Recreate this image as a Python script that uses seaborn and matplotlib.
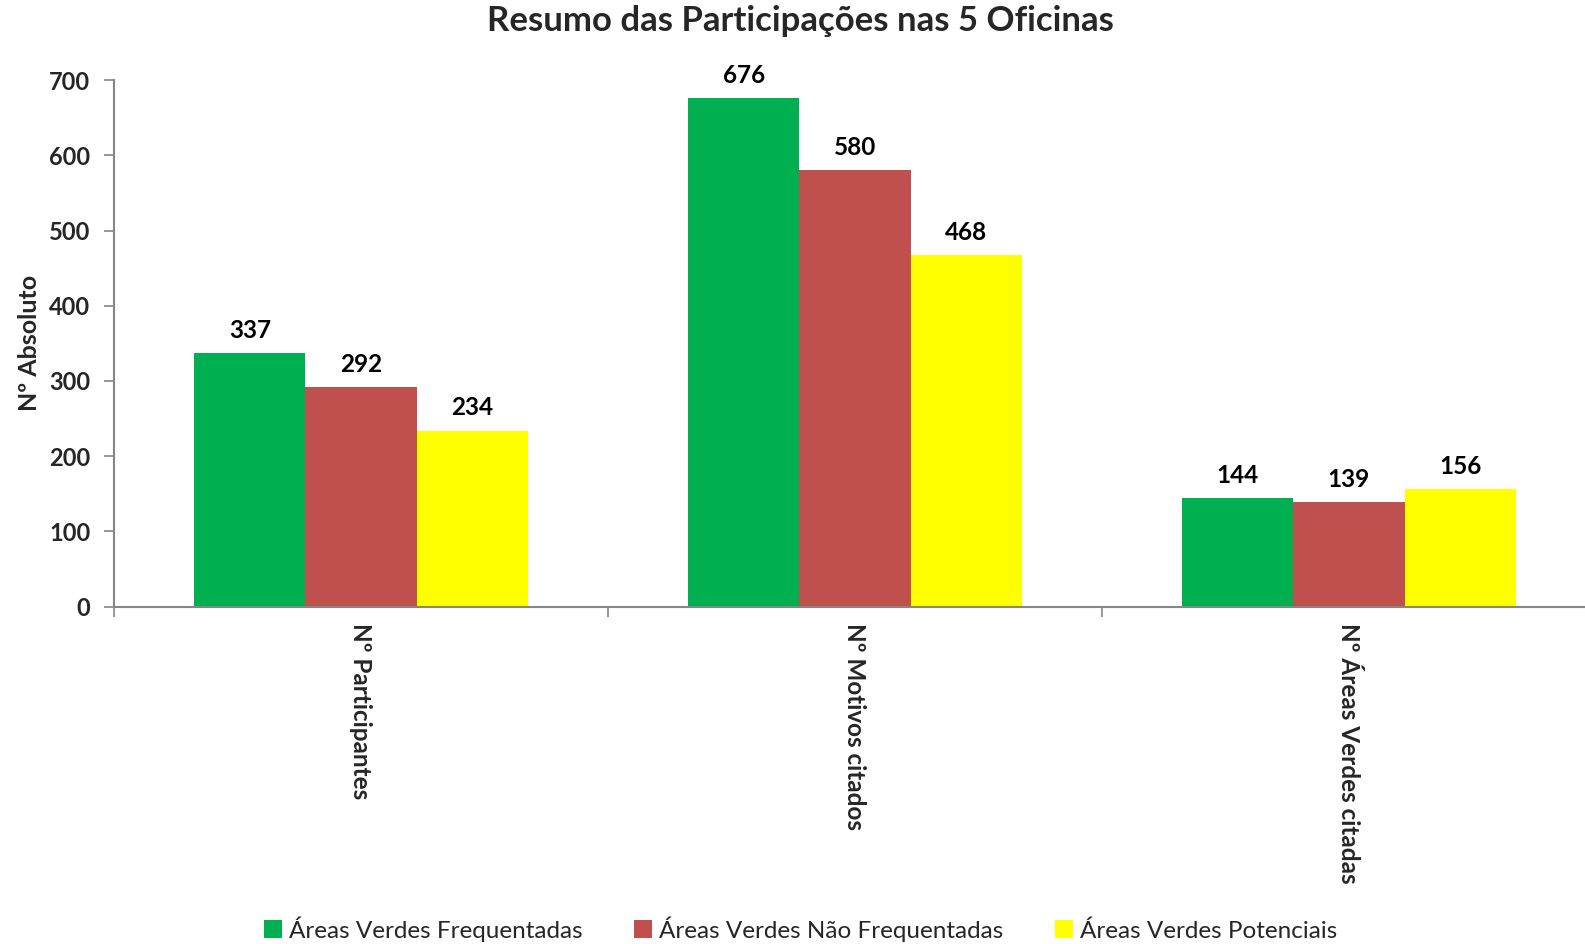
import matplotlib
matplotlib.use("Agg")
import matplotlib.pyplot as plt
from matplotlib.ticker import FixedLocator
import seaborn as sns
import pandas as pd

categories = ["Nº Participantes", "Nº Motivos citados", "Nº Áreas Verdes citadas"]
series_names = ["Áreas Verdes Frequentadas", "Áreas Verdes Não Frequentadas", "Áreas Verdes Potenciais"]
frequentadas = [337, 676, 144]
nao_frequentadas = [292, 580, 139]
potenciais = [234, 468, 156]
colors = ["#00B050", "#C0504D", "#FFFF00"]

rows = []
for name, vals in zip(series_names, [frequentadas, nao_frequentadas, potenciais]):
    for cat, v in zip(categories, vals):
        rows.append({"categoria": cat, "serie": name, "valor": v})
df = pd.DataFrame(rows)

sns.set_style("white")
plt.rcParams["font.family"] = ["Lato", "DejaVu Sans"]

fig = plt.figure(figsize=(15.85, 9.44), dpi=100)
ax = fig.add_axes([0.0719, 0.3575, 0.935, 0.5575])

sns.barplot(data=df, x="categoria", y="valor", hue="serie", order=categories,
            hue_order=series_names, palette=colors, width=0.675, saturation=1,
            edgecolor="none", linewidth=0, ax=ax, legend=True)

for cont in ax.containers:
    ax.bar_label(cont, padding=8, fontsize=17.5, fontweight="bold", color="black")

ax.set_ylim(0, 700)
ax.set_xlim(-0.5, 2.5)
ax.set_yticks(range(0, 701, 100))
ax.set_xlabel("")
ax.set_ylabel("Nº Absoluto", fontsize=18, fontweight="bold", labelpad=6)

for s in ["top", "right"]:
    ax.spines[s].set_visible(False)
for s in ["left", "bottom"]:
    ax.spines[s].set_color("#868686")
    ax.spines[s].set_linewidth(1.5)

ax.tick_params(axis="y", which="major", direction="out", length=7, width=1.2,
               color="#868686", labelsize=17, pad=10, left=True)
for lab in ax.get_yticklabels():
    lab.set_fontweight("bold")

# category labels centred under groups, tick marks at group boundaries
ax.tick_params(axis="x", which="major", length=0, pad=12, labelsize=17.5)
ax.set_xticks(range(len(categories)))
ax.set_xticklabels(categories, rotation=270, ha="center", va="top", fontweight="bold")
ax.xaxis.set_minor_locator(FixedLocator([-0.5, 0.5, 1.5]))
ax.tick_params(axis="x", which="minor", direction="out", length=7, width=1.2,
               color="#868686", bottom=True)

handles, labels = ax.get_legend_handles_labels()
ax.get_legend().remove()
fig.legend(handles, labels, loc="center", bbox_to_anchor=(0.505, 0.016), ncol=3,
           frameon=False, fontsize=17.5, handlelength=0.75, handleheight=0.75,
           handletextpad=0.3, columnspacing=2.1)

fig.suptitle("Resumo das Participações nas 5 Oficinas", fontsize=25,
             fontweight="bold", x=0.505, y=0.995, va="top")

fig.savefig("out.png", dpi=100, facecolor="white")
